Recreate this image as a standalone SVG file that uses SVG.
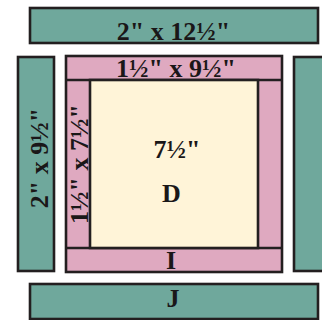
<svg xmlns="http://www.w3.org/2000/svg" width="322" height="320" viewBox="0 0 322 320">
<style>
.teal{fill:#6fa89c;stroke:#231f20;stroke-width:2.6}
.pink{fill:#dfa9c0;stroke:#231f20;stroke-width:2.6}
.cream{fill:#fff4d8;stroke:#231f20;stroke-width:2.6}
text{font-family:"Liberation Serif","Times New Roman",serif;font-weight:bold;font-size:26px;fill:#1a1718;text-anchor:middle}
</style>
<rect width="322" height="320" fill="#ffffff"/>
<g id="top-border">
<rect class="teal" x="30" y="8" width="288" height="35"/>
<text x="173.5" y="39.5">2" x 12½"</text>
</g>
<g id="left-border">
<rect class="teal" x="18" y="57" width="36" height="214"/>
<text transform="translate(47.5,158) rotate(-90)">2" x 9½"</text>
</g>
<g id="right-border">
<rect class="teal" x="294" y="57" width="36" height="214"/>
</g>
<g id="I-frame">
<rect class="pink" x="66" y="56" width="216" height="216"/>
<line x1="66" y1="80" x2="282" y2="80" stroke="#231f20" stroke-width="2.6"/>
<line x1="66" y1="248" x2="282" y2="248" stroke="#231f20" stroke-width="2.6"/>
<text x="176" y="76.5">1½" x 9½"</text>
<text transform="translate(87.5,164) rotate(-90)">1½" x 7½"</text>
<text x="171" y="268.5">I</text>
</g>
<g id="D">
<rect class="cream" x="90" y="80" width="168" height="168"/>
<text x="177" y="157.5">7½"</text>
<text x="171.5" y="202">D</text>
</g>
<g id="bottom-border">
<rect class="teal" x="30" y="284" width="288" height="35"/>
<text x="173" y="307">J</text>
</g>
<g id="connectors"/>
</svg>
